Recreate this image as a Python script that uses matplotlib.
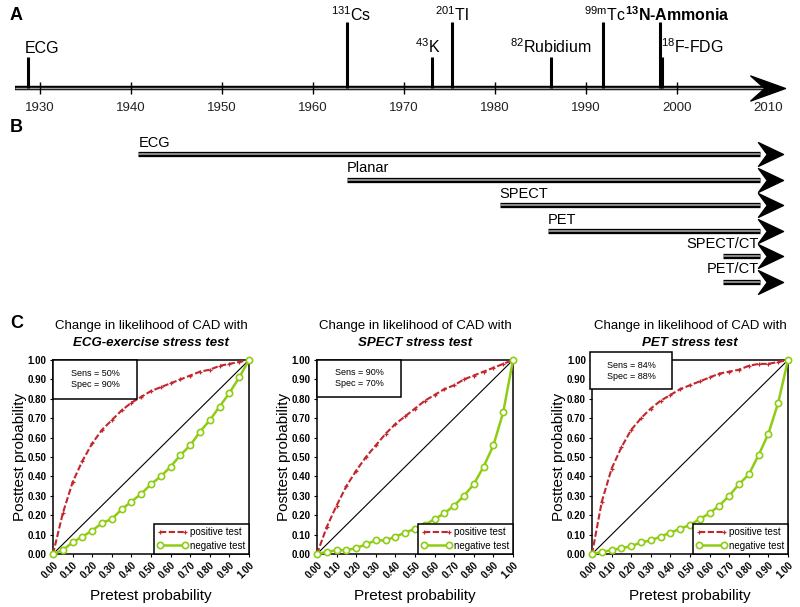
import numpy as np
import matplotlib as mpl
mpl.use('Agg')
import matplotlib.pyplot as plt
from matplotlib.path import Path
from matplotlib.patches import Rectangle

plt.rcParams['font.family'] = ['Liberation Sans', 'DejaVu Sans']
plt.rcParams['mathtext.default'] = 'regular'

# A - tracers / techniques on the time line
tracer_names = ['ECG', '$^{131}$Cs', '$^{43}$K', '$^{201}$Tl', '$^{82}$Rubidium',
                '$^{99m}$Tc', '$^{13}$N-Ammonia', '$^{18}$F-FDG']
tracer_years = [1928.7, 1963.7, 1973.1, 1975.3, 1986.2, 1991.9, 1998.1, 1998.4]
tracer_level = ['low', 'high', 'low', 'high', 'low', 'high', 'high', 'low']
decades = [1930, 1940, 1950, 1960, 1970, 1980, 1990, 2000, 2010]

# B - imaging modalities
modalities = ['ECG', 'Planar', 'SPECT', 'PET', 'SPECT/CT', 'PET/CT']
mod_start = [1940.8, 1963.7, 1980.5, 1985.8, 2005.0, 2005.0]

# C - pretest vs posttest probability
pretest = [0.00, 0.05, 0.10, 0.15, 0.20, 0.25, 0.30, 0.35, 0.40, 0.45, 0.50,
           0.55, 0.60, 0.65, 0.70, 0.75, 0.80, 0.85, 0.90, 0.95, 1.00]
ecg_pos = [0.00, 0.21, 0.37, 0.48, 0.57, 0.64, 0.69, 0.74, 0.78, 0.81, 0.84,
           0.86, 0.88, 0.90, 0.92, 0.94, 0.95, 0.97, 0.98, 0.99, 1.00]
ecg_neg = [0.00, 0.02, 0.06, 0.09, 0.12, 0.16, 0.18, 0.23, 0.27, 0.31, 0.36,
           0.40, 0.45, 0.51, 0.56, 0.63, 0.69, 0.76, 0.83, 0.91, 1.00]
spect_pos = [0.00, 0.14, 0.25, 0.35, 0.43, 0.50, 0.56, 0.62, 0.67, 0.71, 0.75,
             0.79, 0.82, 0.85, 0.87, 0.90, 0.92, 0.94, 0.96, 0.98, 1.00]
spect_neg = [0.00, 0.01, 0.02, 0.02, 0.03, 0.05, 0.07, 0.07, 0.09, 0.11, 0.13,
             0.15, 0.18, 0.21, 0.25, 0.30, 0.36, 0.45, 0.56, 0.73, 1.00]
pet_pos = [0.00, 0.27, 0.44, 0.55, 0.64, 0.70, 0.75, 0.79, 0.82, 0.85, 0.87,
           0.89, 0.91, 0.93, 0.94, 0.95, 0.97, 0.98, 0.98, 0.99, 1.00]
pet_neg = [0.00, 0.01, 0.02, 0.03, 0.04, 0.06, 0.07, 0.09, 0.11, 0.13, 0.15,
           0.18, 0.21, 0.25, 0.30, 0.36, 0.41, 0.51, 0.62, 0.78, 1.00]

W, H = 800, 607
fig = plt.figure(figsize=(8, 6.07), dpi=100)

# years -> pixels: 1930 at x=40, 9.1 px per year
x_lo = 1930 - 40 / 9.1
x_hi = 1930 + 760 / 9.1

# notched arrow heads (tip at marker origin)
head_a = Path([(0, 0), (-2, 0.72), (-1.2, 0), (-2, -0.72), (0, 0)],
              [Path.MOVETO, Path.LINETO, Path.LINETO, Path.LINETO, Path.CLOSEPOLY])
head_b = Path([(0, 0), (-2, 0.95), (-1.3, 0), (-2, -0.95), (0, 0)],
              [Path.MOVETO, Path.LINETO, Path.LINETO, Path.LINETO, Path.CLOSEPOLY])


def double_line(ax, x0, x1, y, lw=3.6):
    ax.plot([x0, x1], [y, y], color='black', lw=lw, solid_capstyle='butt')
    ax.plot([x0, x1], [y, y], color='#a0a0a0', lw=lw * 0.32, solid_capstyle='butt')


# ---- panel A
axA = fig.add_axes([0, 1 - 120 / H, 1, 120 / H])
axA.set_xlim(x_lo, x_hi)
axA.set_ylim(-32, 88)
axA.axis('off')

arrow_tip = 1930 + 745 / 9.1
double_line(axA, 1930 - 25 / 9.1, arrow_tip - 2, 0, lw=3.2)
axA.vlines(decades[:-1], -6, 6, color='black', lw=1.0)
for d in decades:
    axA.text(d, -20, str(d), ha='center', va='center', fontsize=9.5, color='#222222')
axA.plot([arrow_tip], [0], marker=head_a, ms=50, color='black', mec='black')

stem_h = {'low': 31, 'high': 66}
label_dx = [14, 4, -4, 0, -1, 2, 18, 30]
for name, yr, lev, dx in zip(tracer_names, tracer_years, tracer_level, label_dx):
    h = stem_h[lev]
    axA.plot([yr, yr], [0, h], color='black', lw=2.2, solid_capstyle='butt')
    wt = 'bold' if 'Ammonia' in name else 'normal'
    lift = 3 if lev == 'low' else 1
    axA.annotate(name, (yr, h), xytext=(dx * 0.72, lift), textcoords='offset points',
                 ha='center', va='baseline', fontsize=11.5, fontweight=wt)

# ---- panel B
axB = fig.add_axes([0, 1 - 298 / H, 1, 160 / H])
axB.set_xlim(x_lo, x_hi)
axB.set_ylim(5.625, -0.625)
axB.axis('off')
b_tip = 1930 + 743 / 9.1
for i, (m, s) in enumerate(zip(modalities, mod_start)):
    double_line(axB, s, b_tip - 2.5, i, lw=3.8)
    axB.plot([b_tip], [i], marker=head_b, ms=36, color='black', mec='black')
    if s > 2000:
        axB.annotate(m, (b_tip - 2.7, i), xytext=(0, 4), textcoords='offset points',
                     ha='right', va='bottom', fontsize=10.5)
    else:
        axB.annotate(m, (s, i), xytext=(0, 3), textcoords='offset points',
                     ha='left', va='bottom', fontsize=10.5)

fig.text(10 / W, 1 - 15 / H, 'A', fontsize=13, fontweight='bold', va='center')
fig.text(10 / W, 1 - 128 / H, 'B', fontsize=13, fontweight='bold', va='center')
fig.text(10 / W, 1 - 323 / H, 'C', fontsize=13, fontweight='bold', va='center')

# ---- panel C
red = '#c1272d'
green = '#8fcc14'
c_bottom = 1 - 554 / H
c_height = 194 / H
panels = [
    (53, ecg_pos, ecg_neg, 'ECG-exercise stress test', 'Sens = 50%\nSpec = 90%', (0.0, 0.80, 0.43, 0.20)),
    (317, spect_pos, spect_neg, 'SPECT stress test', 'Sens = 90%\nSpec = 70%', (0.0, 0.81, 0.43, 0.19)),
    (592, pet_pos, pet_neg, 'PET stress test', 'Sens = 84%\nSpec = 88%', (-0.01, 0.85, 0.42, 0.19)),
]

for left, pos, neg, title, sens, box in panels:
    ax = fig.add_axes([left / W, c_bottom, 196 / W, c_height])
    ax.plot(pretest, pretest, color='black', lw=0.8)
    ax.plot(pretest, pos, color=red, ls=(0, (3, 1.2)), lw=1.5, marker='+', ms=3,
            mew=0.9, label='positive test', clip_on=False, zorder=3)
    ax.plot(pretest, neg, color=green, lw=1.8, marker='o', ms=4.5, mfc='white',
            mew=1.2, label='negative test', clip_on=False, zorder=4)
    ax.set_xlim(0, 1)
    ax.set_ylim(0, 1)
    ticks = pretest[::2]
    ax.set_xticks(ticks)
    ax.set_xticklabels(['%.2f' % t for t in ticks], rotation=45, ha='right',
                       rotation_mode='anchor', fontsize=7, fontweight='bold')
    ax.set_yticks(ticks)
    ax.set_yticklabels(['%.2f' % t for t in ticks], fontsize=7, fontweight='bold')
    ax.tick_params(length=2.5, width=0.8, pad=2)
    for sp in ax.spines.values():
        sp.set_linewidth(1.1)
    ax.set_ylabel('Posttest probability', fontsize=11)
    ax.yaxis.set_label_coords(-0.135, 0.5)
    ax.set_xlabel('Pretest probability', fontsize=11)
    ax.xaxis.set_label_coords(0.5, -0.18)
    ax.text(0.5, 1.175, 'Change in likelihood of CAD with', transform=ax.transAxes,
            ha='center', va='center', fontsize=9.5)
    ax.text(0.5, 1.088, title, transform=ax.transAxes, ha='center', va='center',
            fontsize=9.5, fontweight='bold', style='italic')
    ax.add_patch(Rectangle(box[:2], box[2], box[3], transform=ax.transAxes, fc='white',
                           ec='black', lw=1.1, clip_on=False, zorder=5))
    ax.text(box[0] + box[2] / 2, box[1] + box[3] / 2, sens, transform=ax.transAxes,
            ha='center', va='center', fontsize=6.5, zorder=6, linespacing=1.3)
    leg = ax.legend(loc='lower right', bbox_to_anchor=(1.0, 0.0), fontsize=7,
                    fancybox=False, edgecolor='black', framealpha=1, borderpad=0.35,
                    handlelength=3.2, handletextpad=0.2, labelspacing=0.35,
                    borderaxespad=0, numpoints=2)
    leg.get_frame().set_linewidth(1.1)

fig.savefig('out.png', dpi=100)
